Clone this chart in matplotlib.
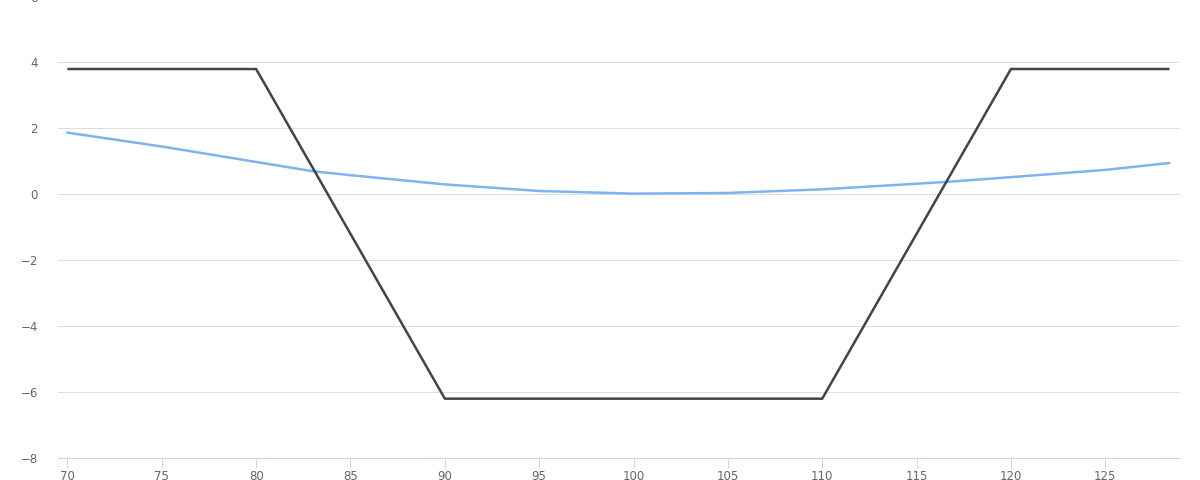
import numpy as np
import matplotlib.pyplot as plt

# payoff at expiry (black) and current value (blue)
payoff_x = [70, 80, 90, 110, 120, 128.4]
payoff_y = [3.8, 3.8, -6.2, -6.2, 3.8, 3.8]

curve_x = [70, 75, 80, 83, 85, 90, 95, 100, 105, 110, 115, 116.7, 120, 125, 128.4]
curve_y = [1.87, 1.45, 0.98, 0.7, 0.58, 0.3, 0.1, 0.02, 0.04, 0.15, 0.32, 0.38, 0.52, 0.74, 0.95]

xticks = [70, 75, 80, 85, 90, 95, 100, 105, 110, 115, 120, 125]
yticks = [-8, -6, -4, -2, 0, 2, 4, 6]

fig = plt.figure(figsize=(12, 4.8), dpi=100)
ax = fig.add_axes([58/1200, 22/480, (1180-58)/1200, 461.5/480])

ax.plot(curve_x, curve_y, color='#7cb5ec', lw=1.8, zorder=3, solid_capstyle='round',
        solid_joinstyle='round')
ax.plot(payoff_x, payoff_y, color='#434348', lw=1.8, zorder=4, solid_capstyle='butt')

ax.set_xlim(69.5, 128.96)
ax.set_ylim(-8, 6)
ax.set_xticks(xticks)
ax.set_yticks(yticks)

ax.yaxis.grid(True, color='#dedede', lw=0.8)
ax.set_axisbelow(True)
for s in ['top', 'right', 'left']:
    ax.spines[s].set_visible(False)
ax.spines['bottom'].set_color('#ccd6eb')
ax.spines['bottom'].set_linewidth(0.8)
ax.spines['bottom'].set_zorder(2)

ax.tick_params(axis='x', length=7.2, width=0.72, color='#ccd6eb', pad=1.5,
               labelsize=8.5, labelcolor='#666666')
ax.tick_params(axis='y', length=0, pad=14.4, labelsize=8.5, labelcolor='#666666')

fig.savefig('out.png', dpi=100)
